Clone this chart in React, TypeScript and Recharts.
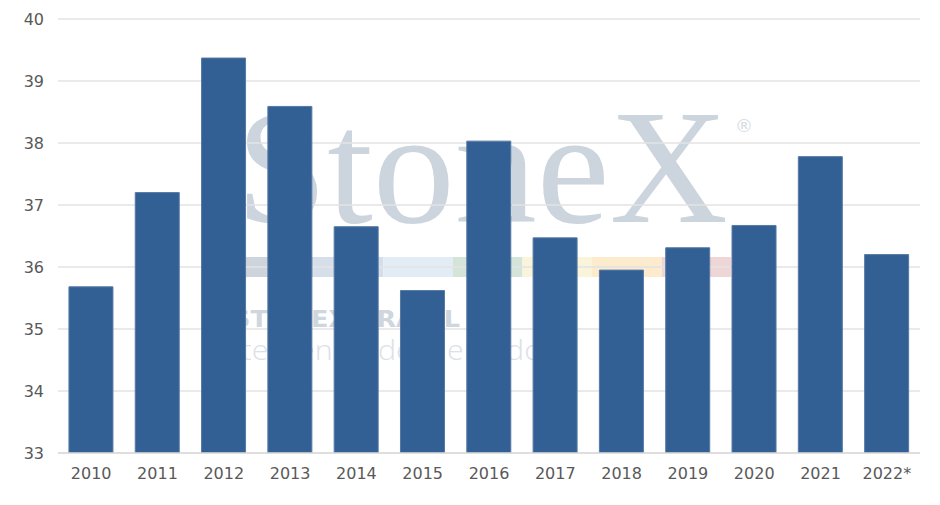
import React from "react"
import { Bar, BarChart, CartesianGrid, XAxis, YAxis } from "recharts"

const years = ["2010", "2011", "2012", "2013", "2014", "2015", "2016", "2017", "2018", "2019", "2020", "2021", "2022*"]
const values = [35.68, 37.2, 39.37, 38.59, 36.65, 35.62, 38.03, 36.47, 35.95, 36.31, 36.67, 37.78, 36.2]
const yTicks = [33, 34, 35, 36, 37, 38, 39, 40]

const data = years.map((year, i) => ({ year, value: values[i] }))

const stripColors = ["#cdd4dc", "#d6dee9", "#e2ecf4", "#d4e4d9", "#f9f4da", "#fcebcd", "#efd6d6"]

function Watermark() {
  return (
    <svg width={940} height={505} style={{ position: "absolute", left: 0, top: 0 }}>
      <text x={236} y={222} fontFamily="Liberation Serif" fontSize={164} fill="#ccd5dd">
        StoneX
      </text>
      <text x={735} y={132} fontSize={18} fontFamily="DejaVu Sans" fill="#d5dce3">
        ®
      </text>
      {stripColors.map((c, i) => (
        <rect key={i} x={244 + i * 69.6} y={257} width={69.6} height={20} fill={c} />
      ))}
      <text
        x={232}
        y={327}
        fontFamily="DejaVu Sans"
        fontWeight="bold"
        fontSize={23}
        fill="#cfd6de"
        textLength={228}
        lengthAdjust="spacingAndGlyphs"
      >
        STONEX BRASIL
      </text>
      <text
        x={216}
        y={360}
        fontFamily="Open Sans"
        fontWeight={300}
        fontSize={27}
        fill="#dbe1e8"
        textLength={326}
        lengthAdjust="spacingAndGlyphs"
      >
        Inteligência de Mercado
      </text>
    </svg>
  )
}

export default function App() {
  return (
    <div style={{ position: "relative", width: 940, height: 505, margin: "-8px 0 0 -8px", background: "#fff" }}>
      <Watermark />
      <div style={{ position: "absolute", left: 0, top: 0 }}>
        <BarChart
          width={940}
          height={505}
          data={data}
          margin={{ top: 19, right: 20, bottom: 22, left: 0 }}
          barCategoryGap="16.5%"
        >
          <CartesianGrid vertical={false} stroke="#e3e3e3" strokeWidth={1.5} />
          <XAxis
            dataKey="year"
            height={30}
            tickLine={false}
            axisLine={{ stroke: "#dadada", strokeWidth: 1.5 }}
            tickSize={0}
            tickMargin={15}
            tick={{ fill: "#595959", fontSize: 16, fontFamily: "DejaVu Sans" }}
            interval={0}
          />
          <YAxis
            width={58}
            domain={[33, 40]}
            ticks={yTicks}
            allowDataOverflow
            tickLine={false}
            axisLine={false}
            tickSize={0}
            tickMargin={14}
            tick={{ fill: "#595959", fontSize: 16, fontFamily: "DejaVu Sans" }}
          />
          <Bar dataKey="value" fill="#336094" stroke="#5679a3" strokeWidth={1} isAnimationActive={false} />
        </BarChart>
      </div>
    </div>
  )
}
